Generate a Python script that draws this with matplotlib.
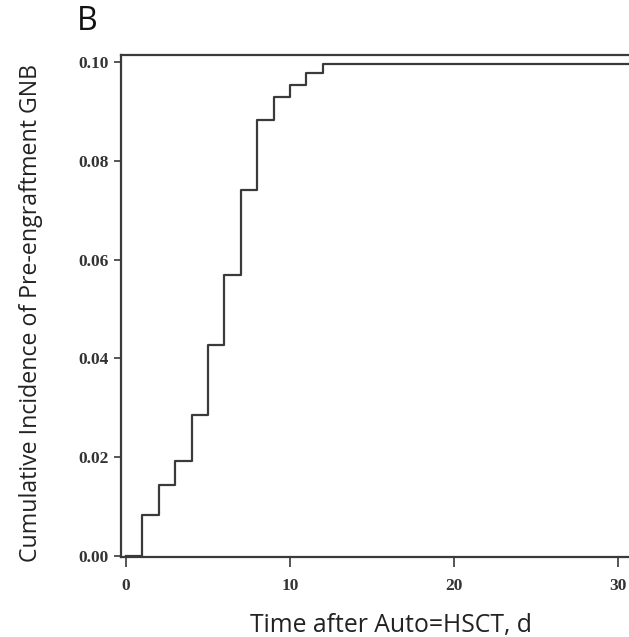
import matplotlib
matplotlib.use("Agg")
import matplotlib.pyplot as plt

# cumulative incidence step values (day, incidence)
days = [0, 1, 2, 3, 4, 5, 6, 7, 8, 9, 10, 11, 12, 31]
incidence = [0.0, 0.0083, 0.0144, 0.0192, 0.0285, 0.0427, 0.0569, 0.0741,
             0.0883, 0.0929, 0.0953, 0.0978, 0.0996, 0.0996]
xticks = [0, 10, 20, 30]
yticks = [0.00, 0.02, 0.04, 0.06, 0.08, 0.10]

fig = plt.figure(figsize=(6.29, 6.37), dpi=100)
ax = fig.add_axes([0.1924, 0.1256, 0.8076, 0.7881])

lc = '#3a3a3a'
ax.step(days, incidence, where='post', color=lc, linewidth=1.6)

ax.set_xlim(-0.3, 30.67)
ax.set_ylim(-0.0002, 0.1014)
ax.set_xticks(xticks)
ax.set_yticks(yticks)
ax.set_xticklabels([str(t) for t in xticks])
ax.set_yticklabels(['%.2f' % t for t in yticks])

for s in ['left', 'bottom', 'top']:
	ax.spines[s].set_color(lc)
	ax.spines[s].set_linewidth(1.6)
ax.spines['right'].set_visible(False)

ax.tick_params(direction='out', length=5, width=1.2, color=lc,
               labelsize=12.5, labelcolor='#333333', pad=4)
ax.tick_params(axis='x', length=7, pad=8)
for lab in ax.get_xticklabels() + ax.get_yticklabels():
	lab.set_family('Liberation Serif')
	lab.set_fontweight('bold')

ax.set_xlabel('Time after Auto=HSCT, d', fontsize=17.8, family='Open Sans',
              color='#222222')
ax.set_ylabel('Cumulative Incidence of Pre-engraftment GNB', fontsize=16.7,
              family='Open Sans', color='#222222')
ax.xaxis.set_label_coords(0.531, -0.112)
ax.yaxis.set_label_coords(-0.153, 0.487)

fig.text(0.122, 0.967, 'B', fontsize=23, family='Open Sans', va='center',
         ha='left', color='#111111')

fig.savefig('out.png', dpi=100)
